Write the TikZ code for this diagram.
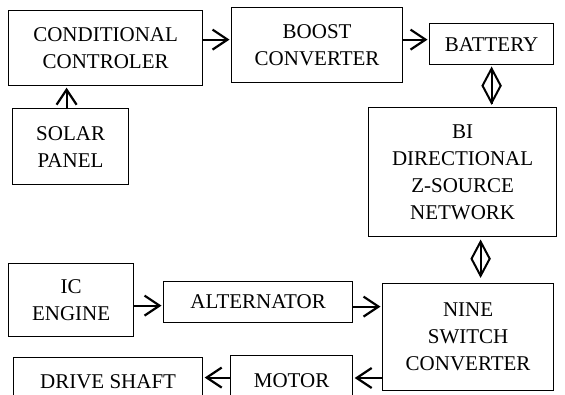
\documentclass[tikz,border=0pt]{standalone}
\usepackage{fontspec}
\setmainfont{Liberation Serif}
\usepackage{tikz}
\usetikzlibrary{arrows.meta, shapes.geometric}

\begin{document}
\begin{tikzpicture}[
    x=1pt, y=-1pt,
    font=\fontsize{21}{27}\selectfont,
    block/.style = {draw, line width=1.2pt, align=center, anchor=north west, inner sep=0pt},
    arrow/.style = {-{Straight Barb[length=15pt, width=20pt]}, line width=2.2pt, shorten >=1.5pt},
    bilink/.style = {line width=2pt},
    kite/.style = {draw, diamond, aspect=0.5, line width=2pt, inner sep=0pt, minimum width=19pt, minimum height=35pt}
]
    \useasboundingbox (0,0) rectangle (565,394);

    \node[block, minimum width=194pt, minimum height=75pt] (ctrl) at (8,10) {CONDITIONAL\\CONTROLER};
    \node[block, minimum width=171pt, minimum height=75pt] (boost) at (231,7) {BOOST\\CONVERTER};
    \node[block, minimum width=124pt, minimum height=41pt] (battery) at (429,23) {BATTERY};
    \node[block, minimum width=116pt, minimum height=76pt] (solar) at (12,108) {SOLAR\\PANEL};
    \node[block, minimum width=188pt, minimum height=129pt] (zsource) at (368,107) {BI\\DIRECTIONAL\\Z-SOURCE\\NETWORK};
    \node[block, minimum width=125pt, minimum height=73pt] (engine) at (8,263) {IC\\ENGINE};
    \node[block, minimum width=189pt, minimum height=41pt] (alt) at (163,281) {ALTERNATOR};
    \node[block, minimum width=171pt, minimum height=107pt] (nine) at (382,283) {NINE\\SWITCH\\CONVERTER};
    \node[block, minimum width=122pt, minimum height=50pt] (motor) at (230,355) {MOTOR};
    \node[block, minimum width=189pt, minimum height=48pt] (shaft) at (13,357) {DRIVE SHAFT};

    \draw[arrow] ([xshift=-4pt]solar.north) -- ([xshift=-4pt]solar.north |- ctrl.south);
    \draw[arrow] ([yshift=8.5pt]ctrl.east) -- ([yshift=8.5pt]ctrl.east -| boost.west);
    \draw[arrow] ([yshift=5.5pt]boost.east) -- ([yshift=5.5pt]boost.east -| battery.west);
    \draw[bilink, shorten <=4pt, shorten >=3pt] (battery.south) -- (battery.south |- zsource.north) node[kite, pos=0.49] {};
    \draw[bilink, shorten <=6pt, shorten >=7pt] ([xshift=18pt]zsource.south) -- ([xshift=18pt]zsource.south |- nine.north) node[kite, pos=0.47] {};
    \draw[arrow] ([yshift=-5.5pt]engine.east) -- ([yshift=-5.5pt]engine.east -| alt.west);
    \draw[arrow] ([yshift=-4.5pt]alt.east) -- ([yshift=-4.5pt]alt.east -| nine.west);
    \draw[arrow] (nine.west |- 0,378) -- (motor.east |- 0,378);
    \draw[arrow] ([yshift=3pt]motor.west) -- ([yshift=3pt]motor.west -| shaft.east);
\end{tikzpicture}
\end{document}
